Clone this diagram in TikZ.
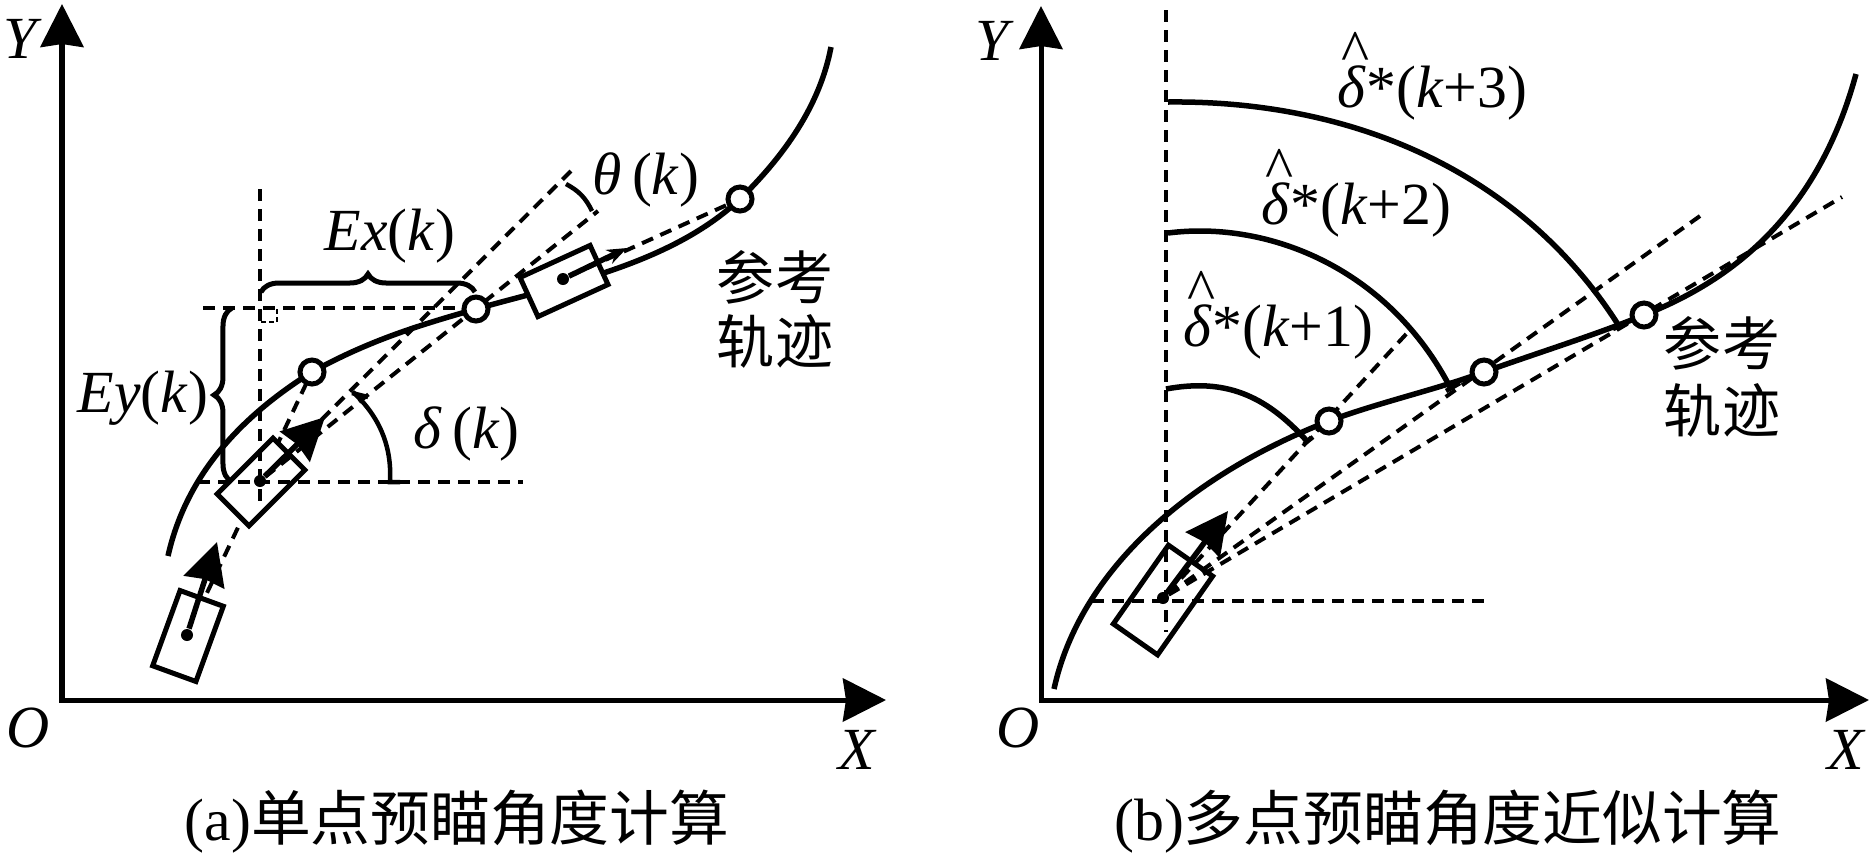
\documentclass[tikz,border=0pt]{standalone}
\usepackage{fontspec}
\setmainfont{Liberation Serif}
\newfontfamily\cjk{Noto Sans CJK SC}
\usetikzlibrary{arrows.meta, decorations.pathreplacing}
\newcommand{\dhat}{\rlap{\raisebox{0.6em}{\kern0.07em\textasciicircum}}\textit{δ}}

\begin{document}
\begin{tikzpicture}[x=0.01cm, y=-0.01cm]

% Styles
\tikzstyle{axis} = [line width=0.05cm, {Stealth[length=0.43cm, width=0.43cm, inset=0.03cm]}-{Stealth[length=0.43cm, width=0.43cm, inset=0.03cm]}]
\tikzstyle{track} = [line width=0.055cm]
\tikzstyle{guide} = [line width=0.04cm, dash pattern=on 0.12cm off 0.08cm]
\tikzstyle{car} = [rectangle, draw, line width=0.05cm, fill=white, inner sep=0]
\tikzstyle{head} = [line width=0.055cm, -{Stealth[length=0.42cm, width=0.42cm, inset=0.03cm]}]
\tikzstyle{dotc} = [circle, fill=black, inner sep=0, minimum size=0.12cm]
\tikzstyle{aim} = [circle, draw, line width=0.05cm, fill=white, inner sep=0, minimum size=0.24cm]
\tikzstyle{lbl} = [inner sep=0, anchor=base west, font=\fontsize{17}{20}\selectfont]
\tikzstyle{cn} = [inner sep=0, anchor=center, font=\fontsize{16.5}{20}\selectfont\cjk]
\tikzstyle{capt} = [inner sep=0, anchor=base, font=\fontsize{17}{20}\selectfont]
\tikzstyle{brc} = [decorate, decoration={brace, amplitude=0.18cm}, line width=0.05cm]
\tikzstyle{tick} = [line width=0.045cm]

\useasboundingbox (0,0) rectangle (1869,860);

% Left picture: nodes
\coordinate (oa) at (62,700);
\coordinate (ya) at (62,4);
\coordinate (xa) at (886,700);
\node [dotc] (dota) at (187,635) {};
\node [dotc] (dotb) at (260,481) {};
\node [dotc] (dotc) at (563,279) {};
\coordinate (tipa) at (217,542);
\coordinate (tipb) at (325,417);
\coordinate (tipc) at (627,248);
\coordinate (headend) at (571,171);
\coordinate (thetaend) at (598,211);
\coordinate (vtop) at (260,189);
\coordinate (vbot) at (260,507);
\coordinate (hta) at (203,308);
\coordinate (htb) at (467,308);
\coordinate (hba) at (198,482);
\coordinate (hbb) at (523,482);

% Left picture: edges
\draw [axis] (ya) -- (oa) -- (xa);
\draw [guide] (dota) -- (307,382);
\draw [track] (168,556) .. controls (185,480) and (235,420) .. (312,372) .. controls (370,340) and (420,325) .. (476,309) .. controls (560,285) and (670,265) .. (740,199) .. controls (785,155) and (820,105) .. (831,47);
\node [car, minimum width=0.8cm, minimum height=0.46cm, rotate=70] (cara) at (188,636) {};
\node [car, minimum width=0.79cm, minimum height=0.45cm, rotate=45] (carb) at (261,482) {};
\node [car, minimum width=0.77cm, minimum height=0.43cm, rotate=24.6] (carc) at (564,281) {};
\node [dotc] at (dota) {};
\node [dotc] at (dotb) {};
\node [dotc] at (dotc) {};
\draw [guide] (vtop) -- (vbot);
\draw [guide] (hta) -- (htb);
\draw [guide] (hba) -- (hbb);
\draw [guide] (dotb) -- (headend);
\draw [guide] (dotb) -- (thetaend);
\draw [guide] (dotc) -- (740,199);
\draw [line width=0.012cm, dash pattern=on 0.05cm off 0.03cm] (261,322) -- (277,322) -- (277,308);
\draw [head] (dota) -- (tipa);
\draw [head] (dotb) -- (tipb);
\draw [line width=0.055cm, -{Stealth[length=0.2cm, width=0.15cm]}] (dotc) -- (tipc);
\node [aim] (aima) at (312,372) {};
\node [aim] (aimb) at (476,309) {};
\node [aim] (aimc) at (740,199) {};
\draw [brc] (261,292) -- (475,292);
\draw [brc] (232,482) -- (232,308);
\draw [tick] (400,482) -- (390,482) .. controls (392,447) and (380,417) .. (353,392);
\draw [tick] (352,393) -- (368,397);
\draw [tick] (566,184) to [bend left=18] (592,211);

% Left picture: labels
\node [lbl] (ylabela) at (3,58) {\textit{Y}};
\node [lbl] (olabela) at (6,747) {\textit{O}};
\node [lbl] (xlabela) at (838,769) {\textit{X}};
\node [lbl] (exlabel) at (324,250) {\textit{Ex}(\textit{k})};
\node [lbl] (eylabel) at (77,412) {\textit{Ey}(\textit{k})};
\node [lbl] (deltalabel) at (413,448) {\textit{δ}\,(\textit{k})};
\node [lbl] (thetalabel) at (592,194) {\textit{θ}\,(\textit{k})};
\node [cn] (refa) at (775,277) {参考};
\node [cn] (refb) at (775,341) {轨迹};
\node [capt] (capa) at (457,840) {(a){\cjk 单点预瞄角度计算}};

% Right picture: nodes
\coordinate (ob) at (1041,700);
\coordinate (yb) at (1041,6);
\coordinate (xb) at (1869,700);
\node [dotc] (dotd) at (1163,598) {};
\coordinate (tipd) at (1228,511);
\coordinate (enda) at (1409,331);
\coordinate (endb) at (1700,216);
\coordinate (endc) at (1842,197);
\coordinate (vtopb) at (1166,10);
\coordinate (vbotb) at (1166,632);
\coordinate (hbla) at (1092,601);
\coordinate (hblb) at (1484,601);

% Right picture: edges
\draw [axis] (yb) -- (ob) -- (xb);
\draw [track] (1054,689) .. controls (1080,570) and (1190,475) .. (1329,421) .. controls (1380,402) and (1435,390) .. (1484,372) .. controls (1540,352) and (1595,335) .. (1644,315) .. controls (1720,285) and (1815,225) .. (1856,74);
\node [car, minimum width=0.96cm, minimum height=0.54cm, rotate=55] (card) at (1163,600) {};
\node [dotc] at (dotd) {};
\draw [guide] (vtopb) -- (vbotb);
\draw [guide] (hbla) -- (hblb);
\draw [guide] (dotd) -- (enda);
\draw [guide] (dotd) -- (endb);
\draw [guide] (dotd) -- (endc);
\draw [head] (dotd) -- (tipd);
\draw [track] (1166,389) .. controls (1225,378) and (1265,395) .. (1306,440);
\draw [track] (1168,233) .. controls (1270,220) and (1390,270) .. (1451,389);
\draw [track] (1168,102) .. controls (1350,100) and (1520,170) .. (1619,326);
\draw [tick] (1304,444) -- (1313,437);
\draw [tick] (1446,391) -- (1460,383);
\draw [tick] (1613,329) -- (1628,323);
\node [aim] (aimd) at (1329,421) {};
\node [aim] (aime) at (1484,372) {};
\node [aim] (aimf) at (1644,315) {};

% Right picture: labels
\node [lbl] (ylabelb) at (975,60) {\textit{Y}};
\node [lbl] (olabelb) at (996,747) {\textit{O}};
\node [lbl] (xlabelb) at (1827,769) {\textit{X}};
\node [lbl] (deltaa) at (1183,346) {\dhat*(\textit{k}+1)};
\node [lbl] (deltab) at (1261,224) {\dhat*(\textit{k}+2)};
\node [lbl] (deltac) at (1337,107) {\dhat*(\textit{k}+3)};
\node [cn] (refc) at (1722,343) {参考};
\node [cn] (refd) at (1722,410) {轨迹};
\node [capt] (capb) at (1448,840) {(b){\cjk 多点预瞄角度近似计算}};

\end{tikzpicture}
\end{document}
